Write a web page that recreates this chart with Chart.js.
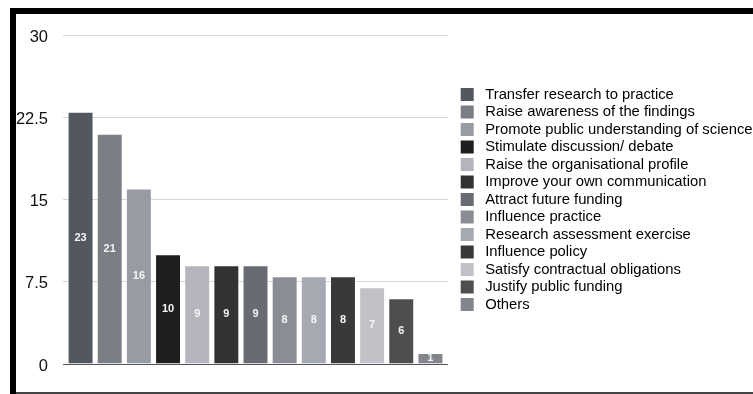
<!DOCTYPE html>
<html>
<head>
<meta charset="utf-8">
<script src="https://cdn.jsdelivr.net/npm/chart.js@4/dist/chart.umd.min.js"></script>
<style>
  html, body { margin: 0; padding: 0; background: #fff; overflow: hidden; }
  #wrap { position: relative; width: 753px; height: 394px; }
  .frame { position: absolute; }
  #top { left: 10px; top: 8px; width: 743px; height: 6px; background: #000; }
  #left { left: 10px; top: 8px; width: 6px; height: 386px; background: #000; }
  #bottom { left: 16px; top: 392px; width: 737px; height: 2px; background: #444; }
  #chart { position: absolute; left: 0; top: 0; }
</style>
</head>
<body>
<div id="wrap">
  <div class="frame" id="top"></div>
  <div class="frame" id="left"></div>
  <div class="frame" id="bottom"></div>
  <canvas id="chart" width="753" height="394"></canvas>
</div>
<script>
  var categories = [
    'Transfer research to practice',
    'Raise awareness of the findings',
    'Promote public understanding of science',
    'Stimulate discussion/ debate',
    'Raise the organisational profile',
    'Improve your own communication',
    'Attract future funding',
    'Influence practice',
    'Research assessment exercise',
    'Influence policy',
    'Satisfy contractual obligations',
    'Justify public funding',
    'Others'
  ];
  var counts = [23, 21, 16, 10, 9, 9, 9, 8, 8, 8, 7, 6, 1];
  var barColors = [
    '#535760', '#7a7e85', '#979ca4', '#1f1f1f', '#b5b5bd', '#323232', '#696b73',
    '#8a8e94', '#a5aab2', '#393939', '#c1c1c8', '#4e4e4e', '#82858b'
  ];
  var yTicks = [0, 7.5, 15, 22.5, 30];

  var fontFamily = '"Liberation Sans", Arial, Helvetica, sans-serif';

  function gridColor(ctx) {
    return ctx.tick && ctx.tick.value === 0 ? '#555555' : '#d6d6d6';
  }

  // white numbers in the middle of every bar
  var barValues = {
    id: 'barValues',
    afterDatasetsDraw: function (chart) {
      var ctx = chart.ctx;
      var meta = chart.getDatasetMeta(0);
      ctx.save();
      ctx.fillStyle = '#f5f5f5';
      ctx.font = 'bold 11px ' + fontFamily;
      ctx.textAlign = 'center';
      ctx.textBaseline = 'middle';
      meta.data.forEach(function (bar, i) {
        ctx.fillText(String(counts[i]), bar.x, (bar.y + bar.base) / 2);
      });
      ctx.restore();
    }
  };

  new Chart(document.getElementById('chart').getContext('2d'), {
    type: 'bar',
    data: {
      labels: categories,
      datasets: [{
        data: counts,
        backgroundColor: barColors,
        borderColor: 'rgba(255, 255, 255, 0.22)',
        borderWidth: 1,
        barPercentage: 0.89,
        categoryPercentage: 1
      }]
    },
    options: {
      responsive: false,
      animation: false,
      layout: { padding: { left: 16, top: 35, bottom: 30, right: 0 } },
      plugins: {
        tooltip: { enabled: false },
        legend: {
          position: 'right',
          maxWidth: 295,
          labels: {
            boxWidth: 13,
            boxHeight: 13,
            padding: 2.7,
            color: '#111',
            font: { family: fontFamily, size: 14.8 },
            generateLabels: function () {
              return categories.map(function (c, i) {
                return {
                  text: ' ' + c,
                  fillStyle: barColors[i],
                  strokeStyle: barColors[i],
                  lineWidth: 0,
                  hidden: false,
                  index: i,
                  datasetIndex: 0
                };
              });
            }
          }
        }
      },
      scales: {
        x: { display: false },
        y: {
          min: 0,
          max: 30,
          afterBuildTicks: function (axis) {
            axis.ticks = yTicks.map(function (v) { return { value: v }; });
          },
          afterFit: function (axis) { axis.width = 50; },
          border: { display: false },
          grid: { color: gridColor, lineWidth: 1, drawTicks: true, tickLength: 3 },
          ticks: {
            padding: 15,
            labelOffset: 2,
            color: '#111',
            font: { family: fontFamily, size: 16.5 }
          }
        },
        y2: {
          position: 'right',
          min: 0,
          max: 30,
          afterBuildTicks: function (axis) {
            axis.ticks = yTicks.map(function (v) { return { value: v }; });
          },
          afterFit: function (axis) { axis.width = 13; },
          border: { display: false },
          grid: { color: gridColor, drawOnChartArea: false, drawTicks: true, tickLength: 3 },
          ticks: { display: false }
        }
      }
    },
    plugins: [barValues]
  });
</script>
</body>
</html>
